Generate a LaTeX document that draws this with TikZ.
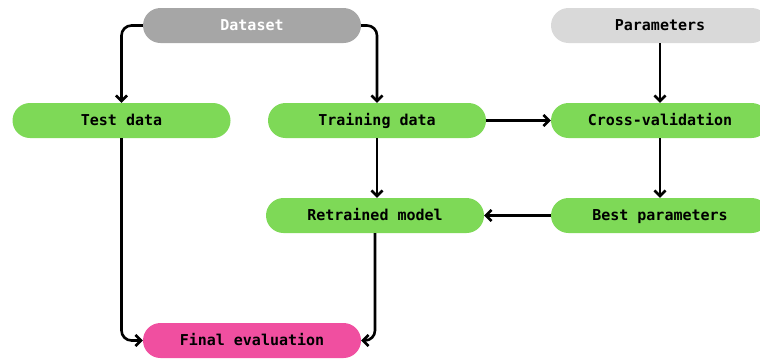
\documentclass[tikz,border=0pt]{standalone}
\usepackage{fontspec}
\newfontfamily\boxfont{DejaVu Sans Mono}
\usetikzlibrary{arrows.meta}
\definecolor{boxgreen}{HTML}{7ED957}
\definecolor{boxgray}{HTML}{A6A6A6}
\definecolor{boxlight}{HTML}{D9D9D9}
\definecolor{boxpink}{HTML}{F04FA0}
\tikzset{
  pill/.style={rectangle, rounded corners=17.5pt, minimum width=218pt,
    minimum height=35pt, inner sep=0pt, fill=boxgreen,
    text height=11.5pt, text depth=1.5pt,
    font=\boxfont\bfseries\fontsize{15}{17}\selectfont, text=black},
  flow/.style={line width=2.6pt, draw=black, rounded corners=10pt,
    -{Straight Barb[length=5.5pt,width=11pt,line width=2.6pt]}},
}
\begin{document}
\begin{tikzpicture}[x=1pt, y=-1pt]
  \useasboundingbox (0,0) rectangle (760,362);
  % top row
  \node[pill, fill=boxgray, text=white] (data) at (252,25.5) {Dataset};
  \node[pill, fill=boxlight] (params) at (660,25.5) {Parameters};
  % second row
  \node[pill] (test) at (121.5,120.5) {Test data};
  \node[pill] (train) at (377,120.5) {Training data};
  \node[pill] (cv) at (660,120.5) {Cross-validation};
  % third row
  \node[pill] (retrain) at (375,215.5) {Retrained model};
  \node[pill] (best) at (660,215.5) {Best parameters};
  % bottom
  \node[pill, fill=boxpink] (final) at (252,340.5) {Final evaluation};

  % connectors
  \draw[flow] (data.west) -| (test.north);
  \draw[flow] (data.east) -| (train.north);
  \draw[flow] (params) -- (cv);
  \draw[flow] (train) -- (cv);
  \draw[flow] (train.south) -- (train.south |- retrain.north);
  \draw[flow] (cv) -- (best);
  \draw[flow] (best) -- (retrain);
  \draw[flow] (test.south) |- (final.west);
  \draw[flow] (retrain.south) |- (final.east);
\end{tikzpicture}
\end{document}
